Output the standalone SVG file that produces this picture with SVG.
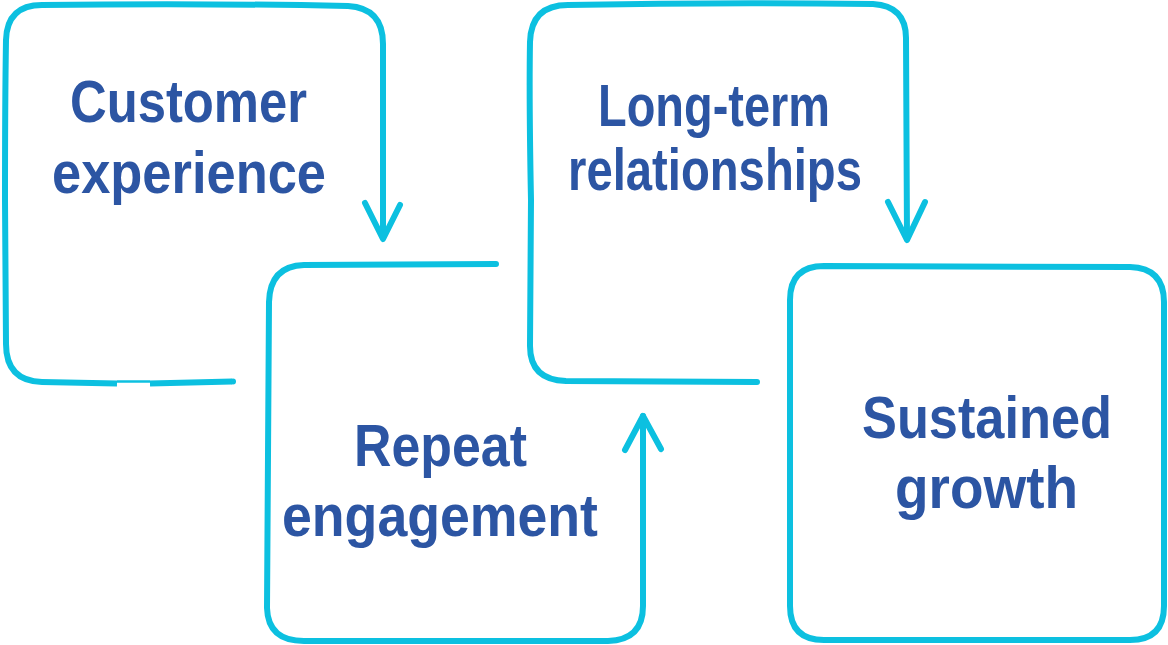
<svg xmlns="http://www.w3.org/2000/svg" width="1168" height="645" viewBox="0 0 1168 645">
  <style>
    .box { fill: none; stroke: #0cc0e0; stroke-width: 6; stroke-linecap: round; stroke-linejoin: round; }
    .butt { stroke-linecap: butt; }
    .thin { fill: none; stroke: #0cc0e0; stroke-width: 2.5; }
    .lbl { font-family: "Liberation Sans", Arial, sans-serif; font-weight: bold; font-size: 60px; fill: #2c55a3; text-anchor: middle; }
  </style>
  <rect width="1168" height="645" fill="#ffffff"/>
  <g id="node-customer-experience">
    <path class="box butt" d="M150,383.5 L232,381.5"/>
    <circle cx="233" cy="381.5" r="3" fill="#0cc0e0"/>
    <path class="box butt" d="M117,383.5 L42,382 Q6,381 6,344 L5,200 Q5,100 6,40 Q7,5 42,5 Q200,3 348,6 Q383,8 383,44 L383,238"/>
    <path class="thin" d="M117,381.5 L150,381.5"/>
    <text class="lbl" x="188.5" y="122" textLength="237" lengthAdjust="spacingAndGlyphs">Customer</text>
    <text class="lbl" x="189" y="193" textLength="274" lengthAdjust="spacingAndGlyphs">experience</text>
  </g>
  <g id="node-repeat-engagement">
    <path class="box" d="M496,264 L304,265 Q270,266 269,302 L267,608 Q268,641 304,641 L608,641 Q643,640 643,606 L643,416"/>
    <text class="lbl" x="440.5" y="466" textLength="173" lengthAdjust="spacingAndGlyphs">Repeat</text>
    <text class="lbl" x="440" y="536" textLength="316" lengthAdjust="spacingAndGlyphs">engagement</text>
  </g>
  <g id="node-long-term-relationships">
    <path class="box" d="M757,382 L566,381 Q530,380 530,346 L531,200 Q529,100 530,42 Q531,5 568,5 Q720,2 873,4 Q906,6 906,38 L907,239"/>
    <text class="lbl" x="714" y="126" font-size="57" textLength="232" lengthAdjust="spacingAndGlyphs">Long-term</text>
    <text class="lbl" x="715" y="190" font-size="57" textLength="294" lengthAdjust="spacingAndGlyphs">relationships</text>
  </g>
  <g id="node-sustained-growth">
    <path class="box" d="M824,266 L1130,267 Q1164,268 1164,302 L1164,606 Q1164,640 1130,640 L824,640 Q790,640 790,606 L790,300 Q790,266 824,266 Z"/>
    <text class="lbl" x="987" y="438" textLength="250" lengthAdjust="spacingAndGlyphs">Sustained</text>
    <text class="lbl" x="986.5" y="508" textLength="183" lengthAdjust="spacingAndGlyphs">growth</text>
  </g>
  <g id="connectors">
    <path class="box" d="M365,203 L383,239 L400,205"/>
    <path class="box" d="M625,450 L643,416 L661,449"/>
    <path class="box" d="M888,202 L907,240 L925,202"/>
  </g>
</svg>
